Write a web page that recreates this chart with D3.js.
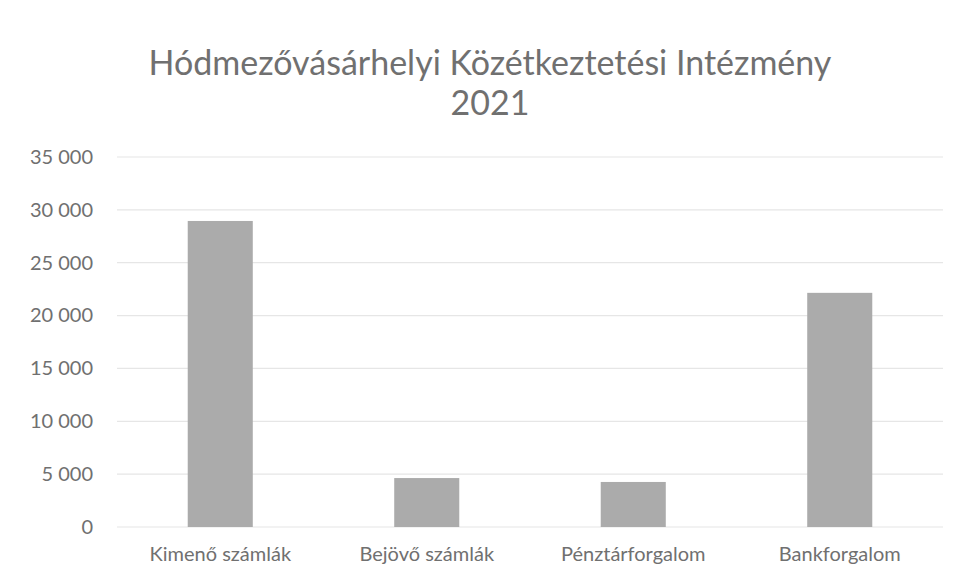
<!DOCTYPE html>
<html>
<head>
<meta charset="utf-8">
<script src="https://cdn.jsdelivr.net/npm/d3@7"></script>
<style>
  body { margin: 0; background: #fff; }
  text { font-family: Lato, "Open Sans", sans-serif; fill: #707070; }
</style>
</head>
<body>
<script>
const width = 967;
const height = 583;

const categories = ['Kimenő számlák', 'Bejövő számlák', 'Pénztárforgalom', 'Bankforgalom'];
const values = [28950, 4630, 4260, 22150];
const yTicks = [0, 5000, 10000, 15000, 20000, 25000, 30000, 35000];
const titleLines = ['Hódmezővásárhelyi Közétkeztetési Intézmény', '2021'];

const margin = {top: 157, right: 24, bottom: 56, left: 117};

const svg = d3.select('body')
    .append('svg')
    .attr('width', width)
    .attr('height', height);

const x = d3.scaleBand()
    .domain(categories)
    .range([margin.left, width - margin.right])
    .padding(0);

const y = d3.scaleLinear()
    .domain([0, 35000])
    .range([height - margin.bottom, margin.top]);

const fmt = v => d3.format(',')(v).replace(/,/g, ' ');

// rácsvonalak
svg.append('g')
    .selectAll('line')
    .data(yTicks)
    .enter().append('line')
    .attr('x1', margin.left)
    .attr('x2', width - margin.right)
    .attr('y1', d => y(d))
    .attr('y2', d => y(d))
    .attr('stroke', '#e6e6e6')
    .attr('stroke-width', 1.2);

// y tengely
const yAxis = svg.append('g')
    .attr('transform', `translate(${margin.left - 24},0)`)
    .call(d3.axisLeft(y).tickValues(yTicks).tickFormat(fmt).tickSize(0).tickPadding(0));
yAxis.select('.domain').remove();
yAxis.selectAll('text')
    .style('font-size', '20px')
    .attr('fill', '#707070');

// oszlopok
const barW = x.bandwidth() * 0.315;
svg.append('g')
    .selectAll('rect')
    .data(values)
    .enter().append('rect')
    .attr('x', (d, i) => x(categories[i]) + (x.bandwidth() - barW) / 2)
    .attr('y', d => y(d))
    .attr('width', barW)
    .attr('height', d => y(0) - y(d))
    .attr('fill', '#ababab');

// x tengely
const xAxis = svg.append('g')
    .attr('transform', `translate(0,${height - margin.bottom})`)
    .call(d3.axisBottom(x).tickSize(0).tickPadding(20));
xAxis.select('.domain').remove();
xAxis.selectAll('text')
    .style('font-size', '20px')
    .attr('fill', '#707070');

// cím
svg.append('g')
    .selectAll('text')
    .data(titleLines)
    .enter().append('text')
    .attr('x', 490)
    .attr('y', (d, i) => 75 + i * 40)
    .attr('text-anchor', 'middle')
    .style('font-size', '34px')
    .text(d => d);
</script>
</body>
</html>
